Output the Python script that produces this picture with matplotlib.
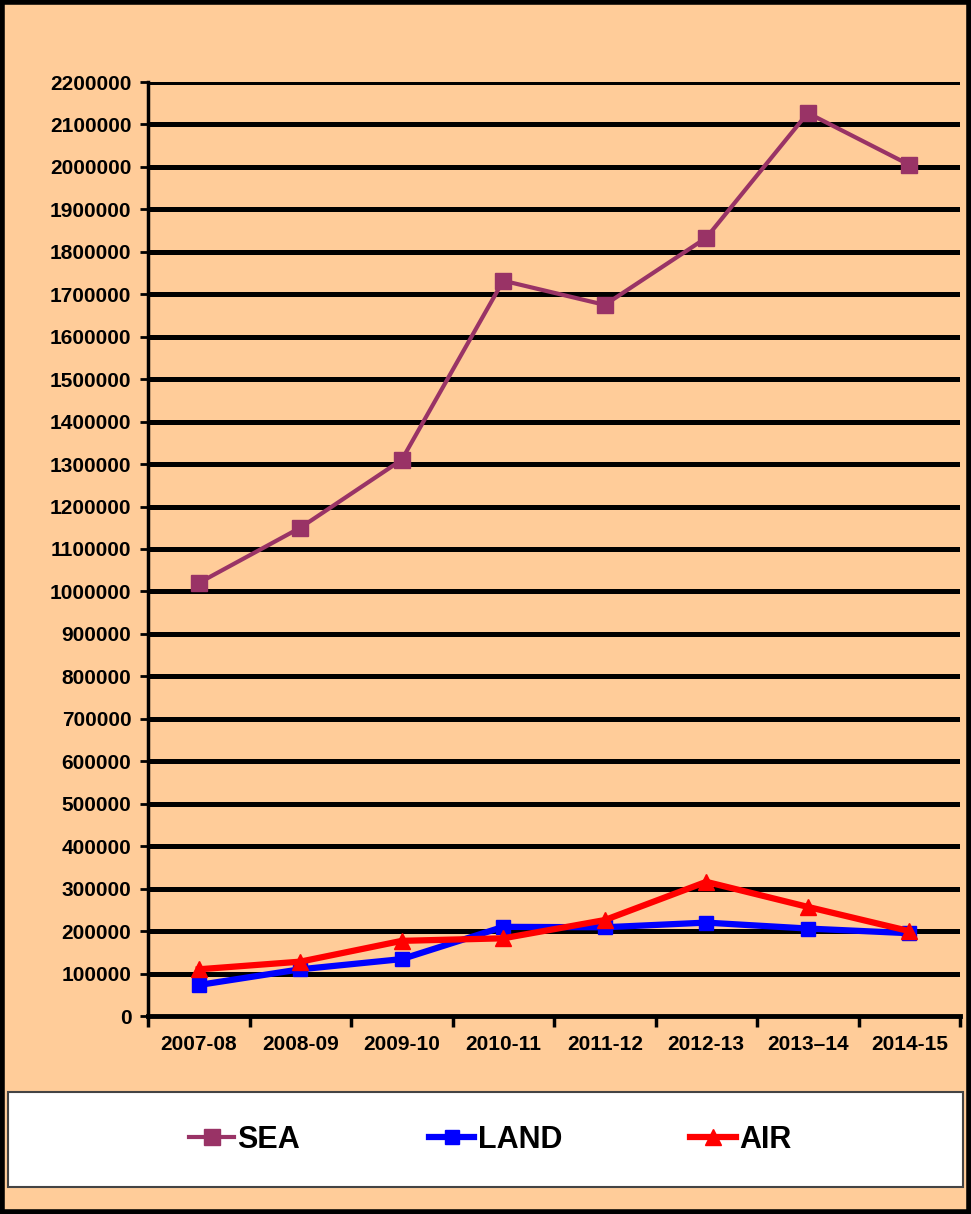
import numpy as np
import matplotlib.pyplot as plt
from matplotlib.patches import Rectangle

plt.rcParams['font.family'] = ['Liberation Sans Narrow', 'Liberation Sans', 'DejaVu Sans']

years = ['2007-08', '2008-09', '2009-10', '2010-11', '2011-12', '2012-13', '2013\u201314', '2014-15']
sea = [1020000, 1150000, 1310000, 1732000, 1675000, 1833000, 2127000, 2005000]
land = [73000, 110000, 134000, 210000, 209000, 220000, 206000, 195000]
air = [110000, 128000, 177000, 183000, 226000, 316000, 257000, 200000]

bg = '#FFCC99'

fig = plt.figure(figsize=(9.71, 12.14), dpi=100, facecolor=bg)
ax = fig.add_axes([148 / 971, 1 - 1016 / 1214, 812 / 971, 934 / 1214])
ax.set_facecolor(bg)

x = np.arange(len(years))

# horizontal grid lines
for v in range(100000, 2200001, 100000):
    ax.axhline(v, color='black', lw=3.6, zorder=1)

ax.plot(x, sea, color='#993366', lw=3, marker='s', ms=11, zorder=3, label='SEA')
ax.plot(x, land, color='#0000FF', lw=4.5, marker='s', ms=10, zorder=3, label='LAND')
ax.plot(x, air, color='#FF0000', lw=4.5, marker='^', ms=11, zorder=4, label='AIR')

ax.set_xlim(-0.5, len(years) - 0.5)
ax.set_ylim(0, 2200000)
ax.set_yticks(range(0, 2200001, 100000))
ax.set_yticklabels([str(v) for v in range(0, 2200001, 100000)],
                   fontsize=15, fontweight='bold')
ax.set_xticks(x)
ax.set_xticklabels(years, fontsize=15, fontweight='bold')
ax.set_xticks(np.arange(-0.5, len(years)), minor=True)
ax.tick_params(axis='x', which='major', length=0, pad=14)
ax.tick_params(axis='x', which='minor', length=8, width=2.5, direction='out')
ax.tick_params(axis='y', length=6, width=2, direction='out', pad=6)

for s in ['top', 'right']:
    ax.spines[s].set_visible(False)
ax.spines['left'].set_linewidth(2.5)
ax.spines['bottom'].set_linewidth(3.5)

# legend box
fig.patches.append(Rectangle((8 / 971, 1 - 1187 / 1214), 955 / 971, 95 / 1214,
                             transform=fig.transFigure, facecolor='white',
                             edgecolor='#444444', lw=1.5, zorder=1))
leg = fig.legend(loc='center', bbox_to_anchor=(490 / 971, 1 - 1140 / 1214),
                 ncol=3, frameon=False, handlelength=1.5, handletextpad=0.1,
                 columnspacing=4.2, prop={'size': 22, 'weight': 'bold'})

# outer border
fig.patches.append(Rectangle((0.002, 0.002), 0.996, 0.996, transform=fig.transFigure,
                             fill=False, edgecolor='black', lw=4, zorder=10))

fig.savefig('out.png', dpi=100, facecolor=bg)
